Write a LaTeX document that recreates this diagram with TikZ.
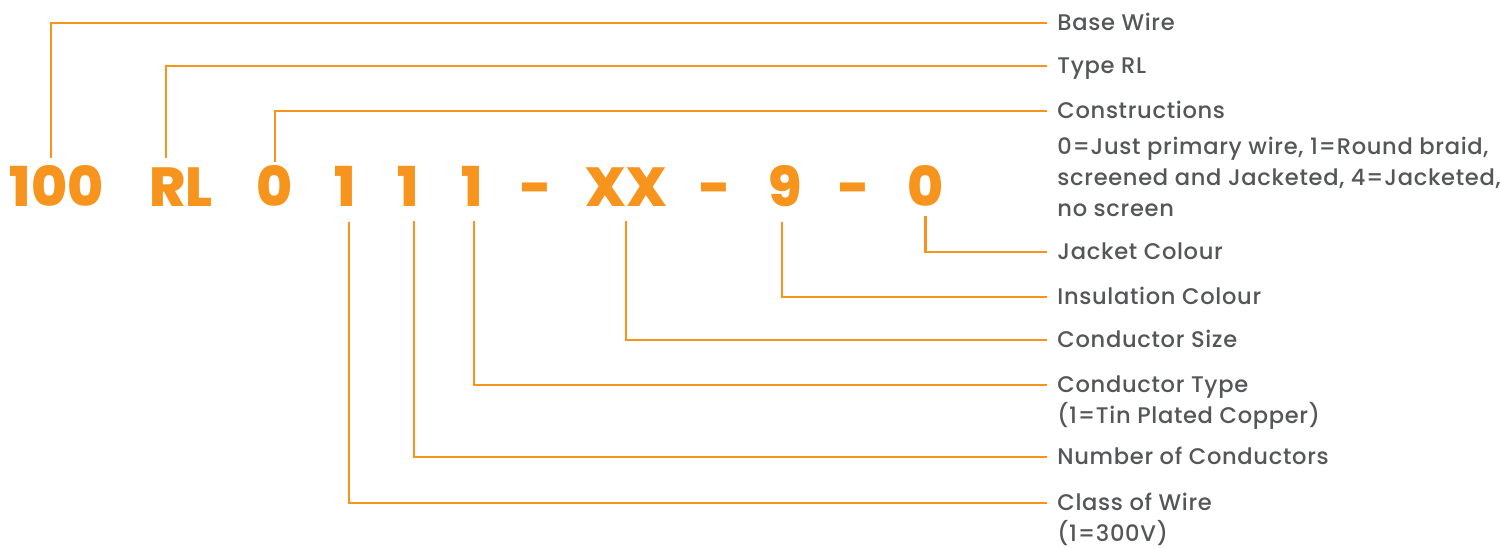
\documentclass[tikz,border=0pt]{standalone}
\usepackage{fontspec}
\setmainfont{Poppins}
\newfontfamily\lblfont[LetterSpace=3,UprightFont={* Medium}]{Poppins}
\newfontfamily\codefont[UprightFont={* ExtraBold}]{Poppins}
\usepackage{tikz}
\usetikzlibrary{positioning}
\definecolor{wireorange}{RGB}{247,148,30}
\definecolor{labelgrey}{RGB}{85,86,88}

\begin{document}
\begin{tikzpicture}[x=0.5pt,y=-0.5pt,
  code/.style={font=\codefont\fontsize{27.5}{30}\selectfont,text=wireorange,inner sep=0pt,text height=19pt,text depth=0pt,anchor=base},
  lbl/.style={font=\lblfont\fontsize{11.3}{15.5}\selectfont,text=labelgrey,anchor=west,inner xsep=5pt,inner ysep=0pt,text height=7.5pt,text depth=0pt},
  sub/.style={font=\lblfont\fontsize{11.3}{15.5}\selectfont,text=labelgrey,align=left,anchor=base west,inner xsep=5pt,inner ysep=0pt},
  leader/.style={draw=wireorange,line width=1.1pt}]
  \useasboundingbox (0,0) rectangle (1500,548);
  % part number
  \node[code] (d100) at (56.5,206) {100};
  \node[code] (rl) at (181,206) {RL};
  \node[code] (cons0) at (275,206) {0};
  \node[code] (oneA) at (345,206) {1};
  \node[code] (oneB) at (408,206) {1};
  \node[code] (oneC) at (472,206) {1};
  \node[code] (dashA) at (536.5,206) {-};
  \node[code] (xx) at (626,206) {XX};
  \node[code] (dashB) at (715.5,206) {-};
  \node[code] (nine) at (785,206) {9};
  \node[code] (dashC) at (854.5,206) {-};
  \node[code] (jack0) at (925.5,206) {0};
  % labels
  \node[lbl] (base) at (1047,23) {Base Wire};
  \node[lbl] (typerl) at (1047,66) {Type RL};
  \node[lbl] (cons) at (1047,111) {Constructions};
  \node[sub] (consd) at ([yshift=-49pt]cons.base west) {0=Just primary wire, 1=Round braid,\\screened and Jacketed, 4=Jacketed,\\no screen};
  \node[lbl] (jacket) at (1047,252) {Jacket Colour};
  \node[lbl] (insul) at (1047,297) {Insulation Colour};
  \node[lbl] (csize) at (1047,340) {Conductor Size};
  \node[lbl] (ctype) at (1047,385) {Conductor Type};
  \node[sub] (ctyped) at ([yshift=-15.5pt]ctype.base west) {(1=Tin Plated Copper)};
  \node[lbl] (nconds) at (1047,457) {Number of Conductors};
  \node[lbl] (wclass) at (1047,503) {Class of Wire};
  \node[sub] (wclassd) at ([yshift=-15.5pt]wclass.base west) {(1=300V)};
  % leaders
  \draw[leader,shorten <=5pt] ([xshift=-2.75pt]d100.north) |- (base.west);
  \draw[leader,shorten <=5pt] ([xshift=-7.5pt]rl.north) |- (typerl.west);
  \draw[leader,shorten <=3pt] (cons0.north) |- (cons.west);
  \draw[leader,shorten <=5pt] (jack0.south) |- (jacket.west);
  \draw[leader,shorten <=8pt] ([xshift=-1.5pt]nine.south) |- (insul.west);
  \draw[leader,shorten <=7.5pt] (xx.south) |- (csize.west);
  \draw[leader,shorten <=7.5pt] ([xshift=1pt]oneC.south) |- (ctype.west);
  \draw[leader,shorten <=7.5pt] ([xshift=3pt]oneB.south) |- (nconds.west);
  \draw[leader,shorten <=8pt] ([xshift=2pt]oneA.south) |- (wclass.west);
\end{tikzpicture}
\end{document}
